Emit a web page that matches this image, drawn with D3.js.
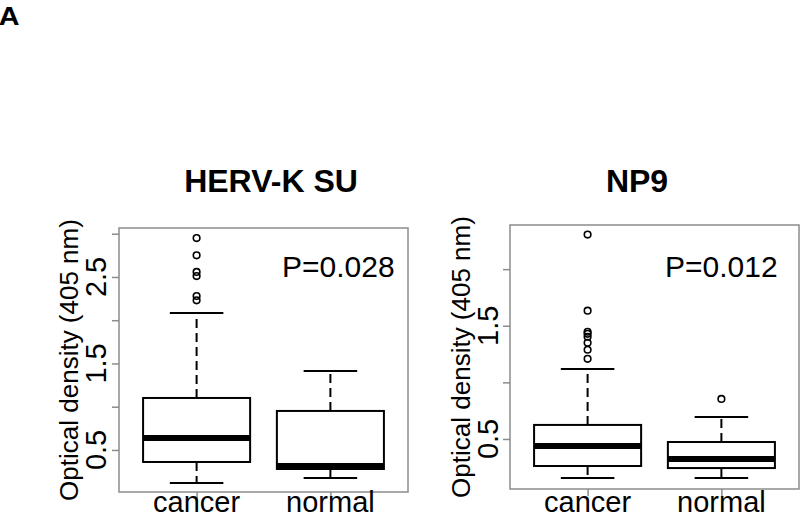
<!DOCTYPE html>
<html>
<head>
<meta charset="utf-8">
<script src="https://cdn.jsdelivr.net/npm/d3@7"></script>
<style>
  html, body { margin: 0; padding: 0; background: #fff; }
  svg { display: block; font-family: "Liberation Sans", Arial, sans-serif; }
</style>
</head>
<body>
<svg id="chart" width="800" height="518"></svg>
<script>
// ---- Data ----
const categories = ["cancer", "normal"];
const panelTitles = ["HERV-K SU", "NP9"];
const pValues = ["P=0.028", "P=0.012"];
const yAxisLabel = "Optical density (405 nm)";
const panelLabel = "A";

// HERV-K SU: [lowerWhisker, q1, median, q3, upperWhisker] for cancer, normal
const hervStats = [
  [0.118, 0.361, 0.639, 1.101, 2.084],
  [0.176, 0.280, 0.315, 0.951, 1.413]
];
const hervOutliers = [
  [2.95, 2.75, 2.558, 2.51, 2.28, 2.23],
  []
];
const hervTicks = [0.5, 1.0, 1.5, 2.0, 2.5, 3.0];
const hervTickLabels = ["0.5", "", "1.5", "", "2.5", ""];
const hervDomain = [0.014, 3.066];

// NP9
const np9Stats = [
  [0.155, 0.261, 0.438, 0.624, 1.119],
  [0.155, 0.243, 0.323, 0.473, 0.695]
];
const np9Outliers = [
  [2.305, 1.633, 1.447, 1.429, 1.403, 1.35, 1.288, 1.208],
  [0.854]
];
const np9Ticks = [0.5, 1.0, 1.5, 2.0];
const np9TickLabels = ["0.5", "", "1.5", ""];
const np9Domain = [0.058, 2.39];

// ---- Drawing ----
const svg = d3.select("#chart");
svg.append("rect").attr("width", 800).attr("height", 518).attr("fill", "#fff");

svg.append("text").attr("x", -1).attr("y", 25)
  .attr("font-size", 25).attr("font-weight", "bold")
  .attr("transform", "scale(1.15,1)").text(panelLabel);

const panels = [
  { stats: hervStats, outliers: hervOutliers, ticks: hervTicks, tickLabels: hervTickLabels,
    domain: hervDomain, title: panelTitles[0], p: pValues[0],
    x0: 119, x1: 408, y0: 228, y1: 492, titleX: 271, pX: 282, ylabX: 78, tlabX: 106 },
  { stats: np9Stats, outliers: np9Outliers, ticks: np9Ticks, tickLabels: np9TickLabels,
    domain: np9Domain, title: panelTitles[1], p: pValues[1],
    x0: 510, x1: 799, y0: 225, y1: 489, titleX: 637, pX: 665, ylabX: 470, tlabX: 498 }
];

panels.forEach(P => {
  const g = svg.append("g");
  const x = d3.scaleLinear().domain([0.42, 2.58]).range([P.x0, P.x1]);
  const y = d3.scaleLinear().domain(P.domain).range([P.y1, P.y0]);
  const unit = x(1) - x(0);
  const boxW = 0.8 * unit, capW = 0.4 * unit;

  // title
  g.append("text").attr("x", P.titleX).attr("y", 192)
    .attr("text-anchor", "middle").attr("font-size", 32).attr("font-weight", "bold")
    .text(P.title);

  // frame
  g.append("rect").attr("x", P.x0).attr("y", P.y0)
    .attr("width", P.x1 - P.x0).attr("height", P.y1 - P.y0)
    .attr("fill", "none").attr("stroke", "#8c8c8c").attr("stroke-width", 1.5);

  // y axis ticks
  const yAxis = d3.axisLeft(y).tickValues(P.ticks).tickSize(7).tickFormat("");
  const ya = g.append("g").attr("transform", `translate(${P.x0},0)`).call(yAxis);
  ya.select(".domain").remove();
  ya.selectAll("line").attr("stroke", "#8c8c8c").attr("stroke-width", 1.5);

  // y tick labels (rotated)
  P.ticks.forEach((t, i) => {
    if (!P.tickLabels[i]) return;
    g.append("text")
      .attr("transform", `translate(${P.tlabX},${y(t)}) rotate(-90)`)
      .attr("text-anchor", "middle").attr("font-size", 29)
      .text(P.tickLabels[i]);
  });

  // y axis label
  g.append("text")
    .attr("transform", `translate(${P.ylabX},${(P.y0 + P.y1) / 2}) rotate(-90)`)
    .attr("text-anchor", "middle").attr("font-size", 26)
    .text(yAxisLabel);

  // x axis ticks + labels
  const xAxis = d3.axisBottom(x).tickValues([1, 2]).tickSize(7).tickFormat("");
  const xa = g.append("g").attr("transform", `translate(0,${P.y1})`).call(xAxis);
  xa.select(".domain").remove();
  xa.selectAll("line").attr("stroke", "#8c8c8c").attr("stroke-width", 1.5);
  categories.forEach((c, i) => {
    g.append("text").attr("x", x(i + 1)).attr("y", 512)
      .attr("text-anchor", "middle").attr("font-size", 29).text(c);
  });

  // p value
  g.append("text").attr("x", P.pX).attr("y", 277)
    .attr("font-size", 30).text(P.p);

  // boxes
  P.stats.forEach((s, i) => {
    const cx = x(i + 1);
    const [lw, q1, med, q3, uw] = s;
    // whiskers (dashed)
    g.append("line").attr("x1", cx).attr("x2", cx).attr("y1", y(q3)).attr("y2", y(uw))
      .attr("stroke", "#000").attr("stroke-width", 2).attr("stroke-dasharray", "9,5");
    g.append("line").attr("x1", cx).attr("x2", cx).attr("y1", y(q1)).attr("y2", y(lw))
      .attr("stroke", "#000").attr("stroke-width", 2).attr("stroke-dasharray", "9,5");
    // caps
    [lw, uw].forEach(v => {
      g.append("line").attr("x1", cx - capW / 2).attr("x2", cx + capW / 2)
        .attr("y1", y(v)).attr("y2", y(v)).attr("stroke", "#000").attr("stroke-width", 2);
    });
    // box
    g.append("rect").attr("x", cx - boxW / 2).attr("y", y(q3))
      .attr("width", boxW).attr("height", y(q1) - y(q3))
      .attr("fill", "#fff").attr("stroke", "#000").attr("stroke-width", 2);
    // median
    g.append("line").attr("x1", cx - boxW / 2).attr("x2", cx + boxW / 2)
      .attr("y1", y(med)).attr("y2", y(med)).attr("stroke", "#000").attr("stroke-width", 6);
    // outliers
    P.outliers[i].forEach(v => {
      g.append("circle").attr("cx", cx).attr("cy", y(v)).attr("r", 3.3)
        .attr("fill", "none").attr("stroke", "#000").attr("stroke-width", 1.6);
    });
  });
});
</script>
</body>
</html>
